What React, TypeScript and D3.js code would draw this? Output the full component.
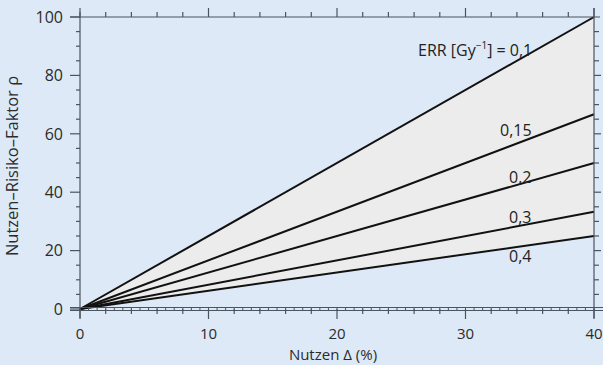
import React, { useEffect, useRef } from "react";
import * as d3 from "d3";

// ERR values (Gy^-1) and rho at Nutzen = 0 and 40 %
const errLabels = ["0,1", "0,15", "0,2", "0,3", "0,4"];
const deltaPoints = [0, 40];
const rhoAt40 = [100, 66.7, 50, 33.3, 25];
const xTicks = [0, 10, 20, 30, 40];
const yTicks = [0, 20, 40, 60, 80, 100];

const W = 603;
const H = 365;
const BG = "#dde9f6";

const App = () => {
  const svgRef = useRef<SVGSVGElement>(null);

  useEffect(() => {
    const svg = d3.select(svgRef.current);
    svg.selectAll("*").remove();
    svg.attr("width", W).attr("height", H);

    const x = d3.scaleLinear().domain([0, 40]).range([80, 594]);
    const y = d3.scaleLinear().domain([0, 100]).range([309, 17]);
    const font = "'Open Sans', 'Noto Sans', sans-serif";
    const axisColor = "#4a5560";

    svg.append("rect").attr("width", W).attr("height", H).attr("fill", BG);

    // series as point lists
    const series = rhoAt40.map((v, i) => ({
      label: errLabels[i],
      points: deltaPoints.map((d, j) => [d, j === 0 ? 0 : v] as [number, number]),
    }));

    // shaded band between highest and lowest line
    const top = series[0].points;
    const bottom = series[series.length - 1].points;
    const area = d3
      .area<number>()
      .x((i) => x(top[i][0]))
      .y0((i) => y(bottom[i][1]))
      .y1((i) => y(top[i][1]));
    svg.append("path").attr("d", area(d3.range(top.length))).attr("fill", "#ececec");

    const line = d3
      .line<[number, number]>()
      .x((d) => x(d[0]))
      .y((d) => y(d[1]));
    svg
      .selectAll(".series")
      .data(series)
      .enter()
      .append("path")
      .attr("d", (d) => line(d.points))
      .attr("fill", "none")
      .attr("stroke", "#111")
      .attr("stroke-width", 2);

    // frame lines
    const frame = svg.append("g").attr("stroke", axisColor).attr("stroke-width", 1.2);
    frame.append("line").attr("x1", 70).attr("x2", 600).attr("y1", y(100)).attr("y2", y(100));
    frame.append("line").attr("x1", x(0)).attr("x2", x(0)).attr("y1", 12).attr("y2", 318);
    frame.append("line").attr("x1", x(40)).attr("x2", x(40)).attr("y1", 8).attr("y2", 318);

    // zero line drawn as a hatched double line
    const zero = svg.append("g").attr("stroke", axisColor).attr("stroke-width", 1);
    zero.append("line").attr("x1", 70).attr("x2", 603).attr("y1", y(0) - 1.5).attr("y2", y(0) - 1.5);
    zero.append("line").attr("x1", 70).attr("x2", 603).attr("y1", y(0) + 1.5).attr("y2", y(0) + 1.5);
    zero
      .selectAll(".hatch")
      .data(d3.range(0, 40.01, 2 / 3))
      .enter()
      .append("line")
      .attr("x1", (d) => x(d))
      .attr("x2", (d) => x(d))
      .attr("y1", y(0) - 1.5)
      .attr("y2", y(0) + 1.5);

    const tickGroup = svg.append("g").attr("stroke", axisColor).attr("stroke-width", 1.2);
    const minorX = d3.range(0, 40.01, 2);
    const minorY = d3.range(0, 100.01, 5);

    // top ticks (outward)
    tickGroup
      .selectAll(".tt")
      .data(minorX)
      .enter()
      .append("line")
      .attr("x1", (d) => x(d))
      .attr("x2", (d) => x(d))
      .attr("y1", y(100))
      .attr("y2", (d) => y(100) - (d % 10 === 0 ? 9 : 5));

    // bottom ticks
    tickGroup
      .selectAll(".bt")
      .data(minorX)
      .enter()
      .append("line")
      .attr("x1", (d) => x(d))
      .attr("x2", (d) => x(d))
      .attr("y1", y(0))
      .attr("y2", (d) => y(0) + (d % 10 === 0 ? 10 : 5));

    // left ticks
    tickGroup
      .selectAll(".lt")
      .data(minorY)
      .enter()
      .append("line")
      .attr("x1", x(0))
      .attr("x2", (d) => x(0) - (d % 20 === 0 ? 10 : 4))
      .attr("y1", (d) => y(d))
      .attr("y2", (d) => y(d));

    // right ticks
    tickGroup
      .selectAll(".rt")
      .data(minorY.filter((d) => d > 0 && d < 100))
      .enter()
      .append("line")
      .attr("x1", x(40))
      .attr("x2", (d) => x(40) + (d % 20 === 0 ? 7 : 5))
      .attr("y1", (d) => y(d))
      .attr("y2", (d) => y(d));

    // tick labels
    svg
      .selectAll(".xl")
      .data(xTicks)
      .enter()
      .append("text")
      .attr("x", (d) => x(d))
      .attr("y", 339)
      .attr("text-anchor", "middle")
      .attr("font-family", font)
      .attr("font-size", 15)
      .attr("fill", "#2b2b2b")
      .text((d) => d);

    svg
      .selectAll(".yl")
      .data(yTicks)
      .enter()
      .append("text")
      .attr("x", 63)
      .attr("y", (d) => y(d))
      .attr("dy", "0.36em")
      .attr("text-anchor", "end")
      .attr("font-family", font)
      .attr("font-size", 16)
      .attr("fill", "#2b2b2b")
      .text((d) => d);

    // axis titles
    svg
      .append("text")
      .attr("x", 333)
      .attr("y", 360)
      .attr("text-anchor", "middle")
      .attr("font-family", font)
      .attr("font-size", 15)
      .attr("fill", "#2b2b2b")
      .text("Nutzen Δ (%)");

    svg
      .append("text")
      .attr("transform", `translate(18,166) rotate(-90)`)
      .attr("text-anchor", "middle")
      .attr("font-family", font)
      .attr("font-size", 16.5)
      .attr("fill", "#2b2b2b")
      .text("Nutzen–Risiko–Faktor ρ");

    // series labels
    const labelPos = [
      { x: 418, y: 56 },
      { x: 500, y: 136 },
      { x: 509, y: 183 },
      { x: 509, y: 223 },
      { x: 509, y: 262 },
    ];
    series.forEach((s, i) => {
      const t = svg
        .append("text")
        .attr("x", labelPos[i].x)
        .attr("y", labelPos[i].y)
        .attr("font-family", font)
        .attr("font-size", 16)
        .attr("fill", "#222");
      if (i === 0) {
        t.append("tspan").text("ERR [Gy");
        t.append("tspan").attr("font-size", 10).attr("dy", -7).text("−1");
        t.append("tspan").attr("dy", 7).text("] = " + s.label);
      } else {
        t.text(s.label);
      }
    });
  }, []);

  return (
    <div style={{ position: "absolute", left: 0, top: 0 }}>
      <svg ref={svgRef} style={{ display: "block" }}></svg>
    </div>
  );
};

export default App;
